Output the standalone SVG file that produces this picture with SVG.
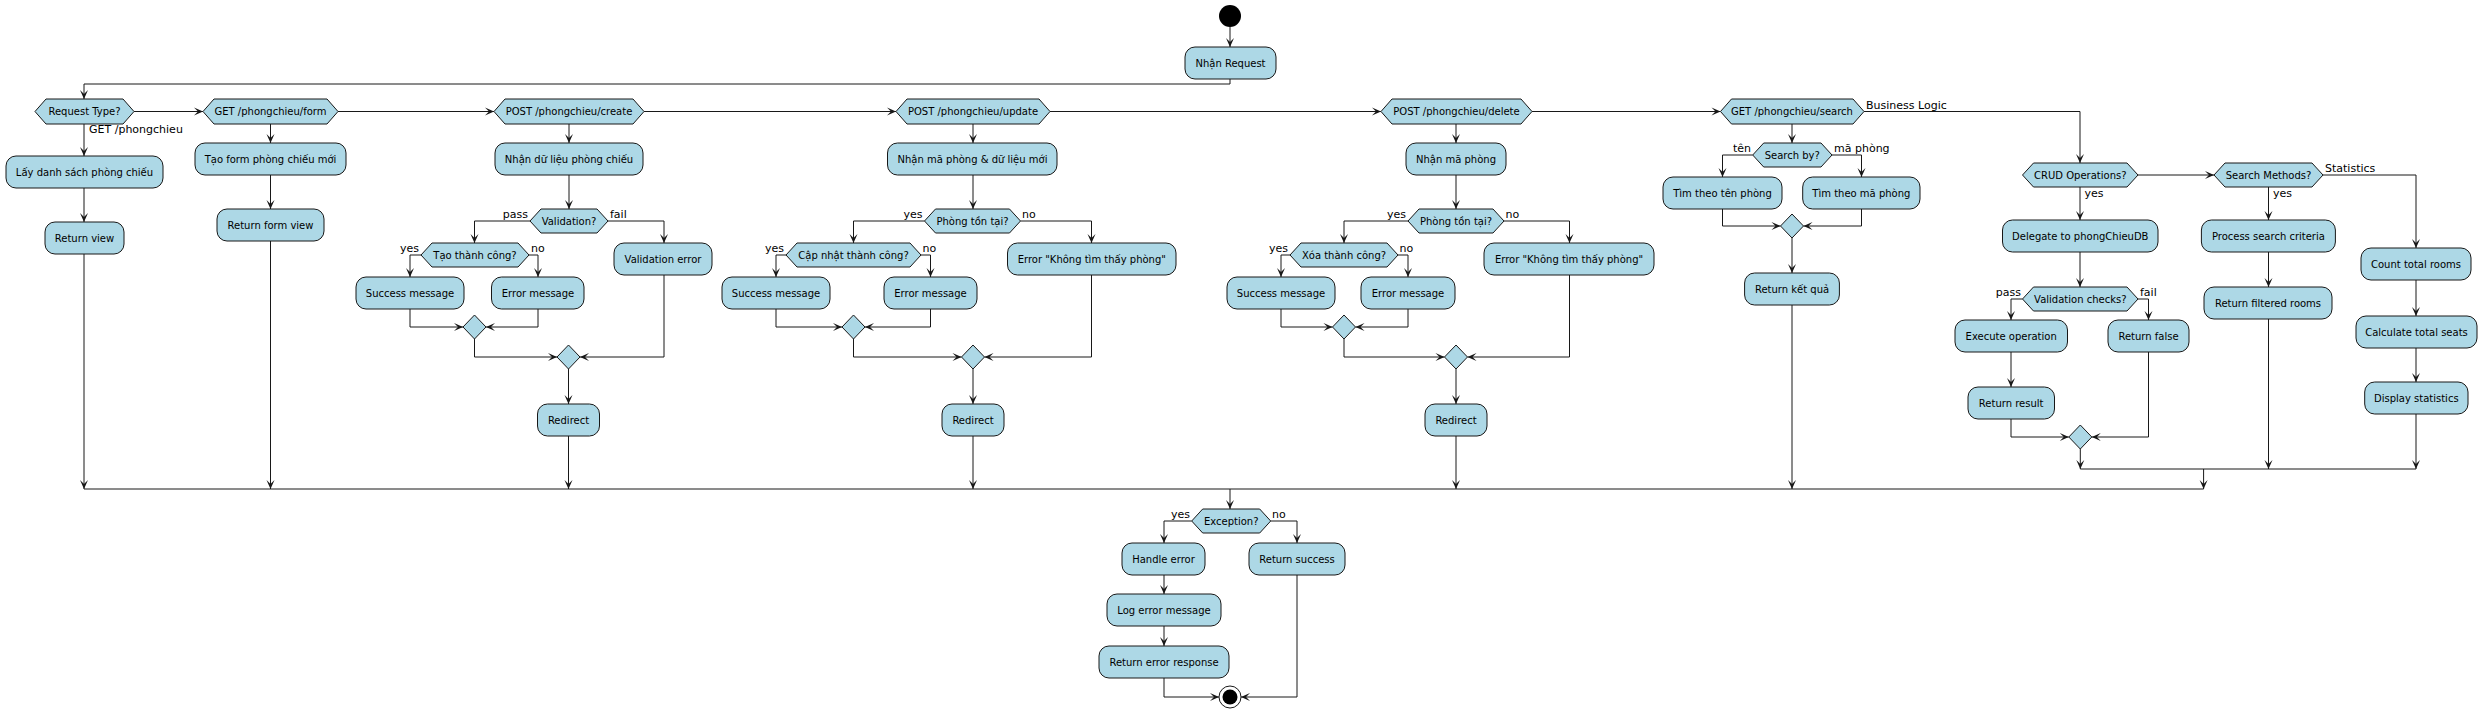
<svg xmlns="http://www.w3.org/2000/svg" width="2482" height="714" viewBox="0 0 2482 714">
<defs>
<style>
.b{fill:#ADD8E6;stroke:#181818;stroke-width:1}
.t{font-family:"DejaVu Sans",sans-serif;font-size:10px;text-anchor:middle;fill:#000}
.l{font-family:"DejaVu Sans",sans-serif;font-size:11px;text-anchor:start;fill:#000}
.lr{font-family:"DejaVu Sans",sans-serif;font-size:11px;text-anchor:end;fill:#000}
.c{fill:none;stroke:#181818;stroke-width:1}
.a{fill:none;stroke:#181818;stroke-width:1;marker-end:url(#ah)}
</style>
<marker id="ah" viewBox="-10 -5 11 10" refX="0" refY="0" markerWidth="11" markerHeight="10" markerUnits="userSpaceOnUse" orient="auto"><path d="M0,0 L-9,-4 L-5,0 L-9,4 Z" fill="#181818"/></marker>
</defs>
<rect width="2482" height="714" fill="#fff"/>

<g id="connectors">
<polyline class="a" points="1230,27 1230,47"/>
<polyline class="a" points="1230,79 1230,84 84,84 84,99"/>
<polyline class="a" points="134,111.5 203,111.5"/>
<polyline class="a" points="338,111.5 494,111.5"/>
<polyline class="a" points="644,111.5 896,111.5"/>
<polyline class="a" points="1050,111.5 1381,111.5"/>
<polyline class="a" points="1532,111.5 1720.5,111.5"/>
<polyline class="a" points="1864,111.5 2080,111.5 2080,163"/>
<text class="l" x="1866" y="109">Business Logic</text>
<!-- branch 1 -->
<polyline class="a" points="84,124 84,156"/>
<text class="l" x="89" y="133">GET /phongchieu</text>
<polyline class="a" points="84,188 84,222"/>
<polyline class="a" points="84,254 84,489"/>
<!-- branch 2 -->
<polyline class="a" points="270.5,124 270.5,143"/>
<polyline class="a" points="270.5,175 270.5,209"/>
<polyline class="a" points="270.5,241 270.5,489"/>
<!-- branch 3 -->
<polyline class="a" points="569,124 569,143"/>
<polyline class="a" points="569,175 569,209"/>
<polyline class="a" points="530,221 474.5,221 474.5,243"/>
<text class="lr" x="528" y="218">pass</text>
<polyline class="a" points="608,221 664,221 664,243"/>
<text class="l" x="610" y="218">fail</text>
<polyline class="a" points="421,255 410,255 410,277"/>
<text class="lr" x="419" y="252">yes</text>
<polyline class="a" points="529,255 538,255 538,277"/>
<text class="l" x="531" y="252">no</text>
<polyline class="a" points="410,309 410,327 463,327"/>
<polyline class="a" points="538,309 538,327 486,327"/>
<polyline class="a" points="474.5,339 474.5,357 557,357"/>
<polyline class="a" points="664,275 664,357 580,357"/>
<polyline class="a" points="568.5,369 568.5,404"/>
<polyline class="a" points="568.5,436 568.5,489"/>
<!-- branch 4 -->
<polyline class="a" points="973,124 973,143"/>
<polyline class="a" points="973,175 973,209"/>
<polyline class="a" points="924.5,221 853.5,221 853.5,243"/>
<text class="lr" x="922.5" y="218">yes</text>
<polyline class="a" points="1020.5,221 1091.5,221 1091.5,243"/>
<text class="l" x="1022" y="218">no</text>
<polyline class="a" points="786,255 776,255 776,277"/>
<text class="lr" x="784" y="252">yes</text>
<polyline class="a" points="921,255 930.5,255 930.5,277"/>
<text class="l" x="922.5" y="252">no</text>
<polyline class="a" points="776,309 776,327 842,327"/>
<polyline class="a" points="930.5,309 930.5,327 865,327"/>
<polyline class="a" points="853.5,339 853.5,357 961.5,357"/>
<polyline class="a" points="1091.5,275 1091.5,357 984.5,357"/>
<polyline class="a" points="973,369 973,404"/>
<polyline class="a" points="973,436 973,489"/>
<!-- branch 5 -->
<polyline class="a" points="1456,124 1456,143"/>
<polyline class="a" points="1456,175 1456,209"/>
<polyline class="a" points="1408,221 1344,221 1344,243"/>
<text class="lr" x="1406" y="218">yes</text>
<polyline class="a" points="1504,221 1569.5,221 1569.5,243"/>
<text class="l" x="1505.5" y="218">no</text>
<polyline class="a" points="1290,255 1281,255 1281,277"/>
<text class="lr" x="1288" y="252">yes</text>
<polyline class="a" points="1398,255 1408,255 1408,277"/>
<text class="l" x="1399.5" y="252">no</text>
<polyline class="a" points="1281,309 1281,327 1332.5,327"/>
<polyline class="a" points="1408,309 1408,327 1355.5,327"/>
<polyline class="a" points="1344,339 1344,357 1444.5,357"/>
<polyline class="a" points="1569.5,275 1569.5,357 1467.5,357"/>
<polyline class="a" points="1456,369 1456,404"/>
<polyline class="a" points="1456,436 1456,489"/>
<!-- branch 6 -->
<polyline class="a" points="1792,124 1792,143"/>
<polyline class="a" points="1752.7,155 1722.5,155 1722.5,177"/>
<text class="lr" x="1751" y="152">tên</text>
<polyline class="a" points="1832,155 1861.5,155 1861.5,177"/>
<text class="l" x="1834" y="152">mã phòng</text>
<polyline class="a" points="1722.5,209 1722.5,226 1780.5,226"/>
<polyline class="a" points="1861.5,209 1861.5,226 1803.5,226"/>
<polyline class="a" points="1792,238 1792,273"/>
<polyline class="a" points="1792,305 1792,489"/>
<!-- business logic -->
<polyline class="a" points="2080,187 2080,220"/>
<text class="l" x="2084.5" y="197">yes</text>
<polyline class="a" points="2138,175 2214,175"/>
<polyline class="a" points="2268.5,187 2268.5,220"/>
<text class="l" x="2273" y="197">yes</text>
<polyline class="a" points="2323,175 2416,175 2416,248"/>
<text class="l" x="2325" y="172">Statistics</text>
<polyline class="a" points="2080,252 2080,287"/>
<polyline class="a" points="2022.5,299 2011,299 2011,320"/>
<text class="lr" x="2021" y="296">pass</text>
<polyline class="a" points="2138,299 2148.5,299 2148.5,320"/>
<text class="l" x="2140" y="296">fail</text>
<polyline class="a" points="2011,352 2011,387"/>
<polyline class="a" points="2011,419 2011,437 2068.8,437"/>
<polyline class="a" points="2148.5,352 2148.5,437 2091.8,437"/>
<polyline class="a" points="2080.3,449 2080.3,469"/>
<polyline class="a" points="2268.5,252 2268.5,287"/>
<polyline class="a" points="2268.5,319 2268.5,469"/>
<polyline class="a" points="2416,280 2416,316"/>
<polyline class="a" points="2416,348 2416,382"/>
<polyline class="a" points="2416,414 2416,469"/>
<polyline class="c" points="2080.3,469 2416,469"/>
<polyline class="a" points="2203.6,469 2203.6,489"/>
<polyline class="c" points="84,489 2203.6,489"/>
<!-- exception -->
<polyline class="a" points="1230,489 1230,509"/>
<polyline class="a" points="1191.7,521 1164,521 1164,543"/>
<text class="lr" x="1190" y="518">yes</text>
<polyline class="a" points="1270.7,521 1297,521 1297,543"/>
<text class="l" x="1272" y="518">no</text>
<polyline class="a" points="1164,575 1164,594"/>
<polyline class="a" points="1164,626 1164,646"/>
<polyline class="a" points="1164,678 1164,697 1219,697"/>
<polyline class="a" points="1297,575 1297,697 1241,697"/>
</g>

<g id="start"><circle cx="1230" cy="16" r="11" fill="#000"/></g>
<g id="nhan_request"><rect class="b" x="1185" y="47" width="91" height="32" rx="10"/><text class="t" x="1230.5" y="66.6">Nhận Request</text></g>

<g id="d_type"><polygon class="b" points="35,111.5 46,99 123,99 134,111.5 123,124 46,124"/><text class="t" x="84.5" y="115.1">Request Type?</text></g>
<g id="d_form"><polygon class="b" points="203,111.5 214,99 327,99 338,111.5 327,124 214,124"/><text class="t" x="270.5" y="115.1">GET /phongchieu/form</text></g>
<g id="d_create"><polygon class="b" points="494,111.5 505,99 633,99 644,111.5 633,124 505,124"/><text class="t" x="569" y="115.1">POST /phongchieu/create</text></g>
<g id="d_update"><polygon class="b" points="896,111.5 907,99 1039,99 1050,111.5 1039,124 907,124"/><text class="t" x="973" y="115.1">POST /phongchieu/update</text></g>
<g id="d_delete"><polygon class="b" points="1381,111.5 1392,99 1521,99 1532,111.5 1521,124 1392,124"/><text class="t" x="1456.5" y="115.1">POST /phongchieu/delete</text></g>
<g id="d_search"><polygon class="b" points="1720.5,111.5 1731.5,99 1853,99 1864,111.5 1853,124 1731.5,124"/><text class="t" x="1792" y="115.1">GET /phongchieu/search</text></g>

<g id="lay_ds"><rect class="b" x="6" y="156" width="157" height="32" rx="10"/><text class="t" x="84.5" y="175.6">Lấy danh sách phòng chiếu</text></g>
<g id="return_view"><rect class="b" x="45" y="222" width="79" height="32" rx="10"/><text class="t" x="84.5" y="241.6">Return view</text></g>

<g id="tao_form"><rect class="b" x="195" y="143" width="151" height="32" rx="10"/><text class="t" x="270.5" y="162.6">Tạo form phòng chiếu mới</text></g>
<g id="return_form_view"><rect class="b" x="217" y="209" width="107" height="32" rx="10"/><text class="t" x="270.5" y="228.6">Return form view</text></g>

<g id="nhan_du_lieu"><rect class="b" x="495" y="143" width="148" height="32" rx="10"/><text class="t" x="569" y="162.6">Nhận dữ liệu phòng chiếu</text></g>
<g id="d_validation"><polygon class="b" points="530,221 541,209 597,209 608,221 597,233 541,233"/><text class="t" x="569" y="224.6">Validation?</text></g>
<g id="d_tao_ok"><polygon class="b" points="421,255 432,243 518,243 529,255 518,267 432,267"/><text class="t" x="475" y="258.6">Tạo thành công?</text></g>
<g id="create_success"><rect class="b" x="356" y="277" width="108" height="32" rx="10"/><text class="t" x="410" y="296.6">Success message</text></g>
<g id="create_error"><rect class="b" x="491.5" y="277" width="92.5" height="32" rx="10"/><text class="t" x="538" y="296.6">Error message</text></g>
<g id="validation_error"><rect class="b" x="614" y="243" width="98" height="32" rx="10"/><text class="t" x="663" y="262.6">Validation error</text></g>
<g id="m_create1"><polygon class="b" points="463,327 474.5,315 486,327 474.5,339"/></g>
<g id="m_create2"><polygon class="b" points="557,357 568.5,345 580,357 568.5,369"/></g>
<g id="create_redirect"><rect class="b" x="537.5" y="404" width="62" height="32" rx="10"/><text class="t" x="568.5" y="423.6">Redirect</text></g>

<g id="nhan_ma_du_lieu"><rect class="b" x="887.5" y="143" width="169.5" height="32" rx="10"/><text class="t" x="972.5" y="162.6">Nhận mã phòng &amp; dữ liệu mới</text></g>
<g id="d_ton_tai_u"><polygon class="b" points="924.5,221 935.5,209 1009.5,209 1020.5,221 1009.5,233 935.5,233"/><text class="t" x="972.5" y="224.6">Phòng tồn tại?</text></g>
<g id="d_cap_nhat"><polygon class="b" points="786,255 797,243 910,243 921,255 910,267 797,267"/><text class="t" x="853.5" y="258.6">Cập nhật thành công?</text></g>
<g id="update_success"><rect class="b" x="722" y="277" width="108" height="32" rx="10"/><text class="t" x="776" y="296.6">Success message</text></g>
<g id="update_error"><rect class="b" x="884" y="277" width="93" height="32" rx="10"/><text class="t" x="930.5" y="296.6">Error message</text></g>
<g id="update_notfound"><rect class="b" x="1007.5" y="243" width="168.5" height="32" rx="10"/><text class="t" x="1091.8" y="262.6">Error "Không tìm thấy phòng"</text></g>
<g id="m_update1"><polygon class="b" points="842,327 853.5,315 865,327 853.5,339"/></g>
<g id="m_update2"><polygon class="b" points="961.5,357 973,345 984.5,357 973,369"/></g>
<g id="update_redirect"><rect class="b" x="942" y="404" width="62" height="32" rx="10"/><text class="t" x="973" y="423.6">Redirect</text></g>

<g id="nhan_ma"><rect class="b" x="1406" y="143" width="100" height="32" rx="10"/><text class="t" x="1456" y="162.6">Nhận mã phòng</text></g>
<g id="d_ton_tai_d"><polygon class="b" points="1408,221 1419,209 1493,209 1504,221 1493,233 1419,233"/><text class="t" x="1456" y="224.6">Phòng tồn tại?</text></g>
<g id="d_xoa"><polygon class="b" points="1290,255 1301,243 1387,243 1398,255 1387,267 1301,267"/><text class="t" x="1344" y="258.6">Xóa thành công?</text></g>
<g id="delete_success"><rect class="b" x="1227" y="277" width="108" height="32" rx="10"/><text class="t" x="1281" y="296.6">Success message</text></g>
<g id="delete_error"><rect class="b" x="1361" y="277" width="94" height="32" rx="10"/><text class="t" x="1408" y="296.6">Error message</text></g>
<g id="delete_notfound"><rect class="b" x="1484" y="243" width="170" height="32" rx="10"/><text class="t" x="1569" y="262.6">Error "Không tìm thấy phòng"</text></g>
<g id="m_delete1"><polygon class="b" points="1332.5,327 1344,315 1355.5,327 1344,339"/></g>
<g id="m_delete2"><polygon class="b" points="1444.5,357 1456,345 1467.5,357 1456,369"/></g>
<g id="delete_redirect"><rect class="b" x="1425" y="404" width="62" height="32" rx="10"/><text class="t" x="1456" y="423.6">Redirect</text></g>

<g id="d_search_by"><polygon class="b" points="1752.7,155 1763.7,143 1821,143 1832,155 1821,167 1763.7,167"/><text class="t" x="1792.3" y="158.6">Search by?</text></g>
<g id="tim_ten"><rect class="b" x="1663" y="177" width="119" height="32" rx="10"/><text class="t" x="1722.5" y="196.6">Tìm theo tên phòng</text></g>
<g id="tim_ma"><rect class="b" x="1802.7" y="177" width="117.3" height="32" rx="10"/><text class="t" x="1861.4" y="196.6">Tìm theo mã phòng</text></g>
<g id="m_search"><polygon class="b" points="1780.5,226 1792,214 1803.5,226 1792,238"/></g>
<g id="return_ket_qua"><rect class="b" x="1744.6" y="273" width="94.8" height="32" rx="10"/><text class="t" x="1792" y="292.6">Return kết quả</text></g>

<g id="d_crud"><polygon class="b" points="2022.5,175 2033.5,163 2127,163 2138,175 2127,187 2033.5,187"/><text class="t" x="2080.3" y="178.6">CRUD Operations?</text></g>
<g id="d_search_methods"><polygon class="b" points="2214,175 2225,163 2312,163 2323,175 2312,187 2225,187"/><text class="t" x="2268.5" y="178.6">Search Methods?</text></g>
<g id="delegate"><rect class="b" x="2002.5" y="220" width="155.5" height="32" rx="10"/><text class="t" x="2080.3" y="239.6">Delegate to phongChieuDB</text></g>
<g id="d_validation_checks"><polygon class="b" points="2022.5,299 2033.5,287 2127,287 2138,299 2127,311 2033.5,311"/><text class="t" x="2080.3" y="302.6">Validation checks?</text></g>
<g id="execute_op"><rect class="b" x="1955" y="320" width="112.5" height="32" rx="10"/><text class="t" x="2011.2" y="339.6">Execute operation</text></g>
<g id="return_false"><rect class="b" x="2108" y="320" width="81" height="32" rx="10"/><text class="t" x="2148.5" y="339.6">Return false</text></g>
<g id="return_result"><rect class="b" x="1968" y="387" width="86.5" height="32" rx="10"/><text class="t" x="2011.2" y="406.6">Return result</text></g>
<g id="m_crud"><polygon class="b" points="2068.8,437 2080.3,425 2091.8,437 2080.3,449"/></g>
<g id="process_search"><rect class="b" x="2201.4" y="220" width="134" height="32" rx="10"/><text class="t" x="2268.4" y="239.6">Process search criteria</text></g>
<g id="return_filtered"><rect class="b" x="2204" y="287" width="128" height="32" rx="10"/><text class="t" x="2268" y="306.6">Return filtered rooms</text></g>
<g id="count_rooms"><rect class="b" x="2361" y="248" width="110" height="32" rx="10"/><text class="t" x="2416" y="267.6">Count total rooms</text></g>
<g id="calc_seats"><rect class="b" x="2356" y="316" width="121" height="32" rx="10"/><text class="t" x="2416.5" y="335.6">Calculate total seats</text></g>
<g id="display_stats"><rect class="b" x="2364.7" y="382" width="103.3" height="32" rx="10"/><text class="t" x="2416.3" y="401.6">Display statistics</text></g>

<g id="d_exception"><polygon class="b" points="1191.7,521 1202.7,509 1259.7,509 1270.7,521 1259.7,533 1202.7,533"/><text class="t" x="1231.2" y="524.6">Exception?</text></g>
<g id="handle_error"><rect class="b" x="1122" y="543" width="83" height="32" rx="10"/><text class="t" x="1163.5" y="562.6">Handle error</text></g>
<g id="log_error"><rect class="b" x="1107" y="594" width="114" height="32" rx="10"/><text class="t" x="1164" y="613.6">Log error message</text></g>
<g id="return_error_response"><rect class="b" x="1099" y="646" width="130" height="32" rx="10"/><text class="t" x="1164" y="665.6">Return error response</text></g>
<g id="return_success"><rect class="b" x="1249" y="543" width="96" height="32" rx="10"/><text class="t" x="1297" y="562.6">Return success</text></g>
<g id="end"><circle cx="1230" cy="697" r="11" fill="#fff" stroke="#181818" stroke-width="1"/><circle cx="1230" cy="697" r="7.5" fill="#000"/></g>
</svg>
